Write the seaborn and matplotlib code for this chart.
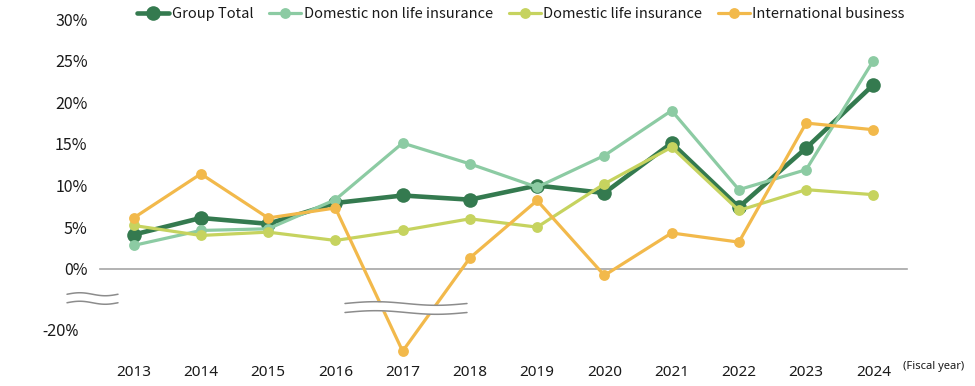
import numpy as np
import pandas as pd
import matplotlib
matplotlib.use("Agg")
import matplotlib.pyplot as plt
import matplotlib.transforms as mtransforms
from matplotlib.ticker import PercentFormatter
import seaborn as sns

# growth rate by segment, fiscal years 2013-2024 (%)
years = ["2013", "2014", "2015", "2016", "2017", "2018",
         "2019", "2020", "2021", "2022", "2023", "2024"]
group_total = [4.1, 6.1, 5.4, 7.9, 8.8, 8.3, 10.0, 9.1, 15.1, 7.4, 14.5, 22.1]
non_life = [2.8, 4.6, 4.8, 8.3, 15.1, 12.6, 9.8, 13.6, 19.0, 9.5, 11.9, 25.0]
life = [5.2, 4.0, 4.4, 3.4, 4.6, 6.0, 5.0, 10.2, 14.6, 7.0, 9.5, 8.9]
international = [6.1, 11.4, 6.1, 7.3, -22.5, 1.3, 8.2, -0.8, 4.3, 3.2, 17.5, 16.7]
series_names = ["Group Total", "Domestic non life insurance",
                "Domestic life insurance", "International business"]
y_ticks = [-20, 0, 5, 10, 15, 20, 25, 30]

colors = ["#347a4f", "#8ccba3", "#c6d35f", "#f2b94b"]
GRAY = "#a6a6a6"

# broken y axis: squeeze the empty band between -20% and 0%
KEEP = -1.5
LOW = -20.0
SHIFT = 12.6


def squash(v):
    v = np.asarray(v, dtype=float)
    mid = KEEP + (v - KEEP) * (LOW + SHIFT - KEEP) / (LOW - KEEP)
    return np.where(v >= KEEP, v, np.where(v >= LOW, mid, v + SHIFT))


def unsquash(t):
    t = np.asarray(t, dtype=float)
    lo_t = LOW + SHIFT
    mid = KEEP + (t - KEEP) * (LOW - KEEP) / (lo_t - KEEP)
    return np.where(t >= KEEP, t, np.where(t >= lo_t, mid, t - SHIFT))


sns.set_style("white")
plt.rcParams["font.family"] = ["Noto Sans CJK JP", "DejaVu Sans"]
plt.rcParams["axes.unicode_minus"] = False

W, H = 975, 386
AX_L, AX_R, AX_T, AX_B = 100, 907, 19, 362
fig = plt.figure(figsize=(W / 100, H / 100), dpi=100)
ax = fig.add_axes([AX_L / W, 1 - AX_B / H, (AX_R - AX_L) / W, (AX_B - AX_T) / H])
ax.set_yscale("function", functions=(squash, unsquash))

df = pd.DataFrame({"year": years, series_names[0]: group_total,
                   series_names[1]: non_life, series_names[2]: life,
                   series_names[3]: international})

for i, name in enumerate(series_names):
    big = i == 0
    sns.lineplot(data=df, x="year", y=name, ax=ax, color=colors[i],
                 linewidth=3.3 if big else 2.3, marker="o",
                 markersize=10.5 if big else 7.8, markeredgewidth=0,
                 label=name, zorder=2 + i)

ax.set_xlim(-0.5, 11.5)
ax.set_ylim(-23.8, 30)
ax.set_xlabel("")
ax.set_ylabel("")

# y axis: labels only
ax.set_yticks(y_ticks)
ax.yaxis.set_major_formatter(PercentFormatter(decimals=0))
ax.tick_params(axis="y", length=0, pad=9, labelsize=11.5, labelcolor="#1a1a1a")
for s in ["left", "right", "top"]:
    ax.spines[s].set_visible(False)

# x axis line sits at 0%, tick marks between the categories
ax.spines["bottom"].set_position(("data", 0))
ax.spines["bottom"].set_color(GRAY)
ax.spines["bottom"].set_linewidth(1.2)
ax.set_xticks(np.arange(-0.5, 12, 1))
ax.tick_params(axis="x", length=5, width=1.2, color=GRAY, labelbottom=False,
               direction="out")

# year labels at the bottom of the plot area
sec = ax.secondary_xaxis("bottom")
sec.set_xticks(range(len(years)), labels=years)
sec.tick_params(length=0, pad=2, labelsize=11, labelcolor="#1a1a1a")
for lab in sec.get_xticklabels():
    lab.set_fontfamily("Noto Sans")
sec.spines["bottom"].set_visible(False)

# -20% label in the same face as the years, set a bit further left
neg_lab = ax.get_yticklabels()[0]
neg_lab.set_fontfamily("Noto Sans")
neg_lab.set_transform(neg_lab.get_transform() +
                      mtransforms.ScaledTranslation(-0.09, 0, fig.dpi_scale_trans))


def px_to_ax(px, py):
    return (px - AX_L) / (AX_R - AX_L), (AX_B - py) / (AX_B - AX_T)


def draw_break(x0, x1, ymid, gap, amp):
    xs = np.linspace(x0, x1, 80)
    wave = amp * np.sin(np.linspace(0, 2 * np.pi, 80))
    up = [px_to_ax(x, ymid - gap / 2 - w) for x, w in zip(xs, wave)]
    lo = [px_to_ax(x, ymid + gap / 2 - w) for x, w in zip(xs, wave)]
    ux, uy = zip(*up)
    lx, ly = zip(*lo)
    ax.fill_between(ux, ly, uy, color="white", transform=ax.transAxes,
                    clip_on=False, zorder=10, linewidth=0)
    ax.plot(ux, uy, color="#8c8c8c", lw=1.1, transform=ax.transAxes,
            clip_on=False, zorder=11)
    ax.plot(lx, ly, color="#8c8c8c", lw=1.1, transform=ax.transAxes,
            clip_on=False, zorder=11)


draw_break(67, 118, 298.5, 8.5, 1.5)
draw_break(345, 467, 308, 9, 1.8)

ax.set_xlim(-0.5, 11.5)
ax.set_ylim(-23.8, 30)

ax.legend(loc="center", bbox_to_anchor=(521 / W, 1 - 14 / H),
          bbox_transform=fig.transFigure, ncol=4, frameon=False,
          handlelength=2.2, handletextpad=0.15, columnspacing=1.1,
          prop={"family": "Noto Sans CJK JP", "size": 10.5},
          labelcolor="#1a1a1a")

fig.text(903 / W, 1 - 366 / H, "(Fiscal year)", ha="left", va="center",
         fontsize=8, family="Noto Sans", color="#1a1a1a")

fig.savefig("out.png", dpi=100)
